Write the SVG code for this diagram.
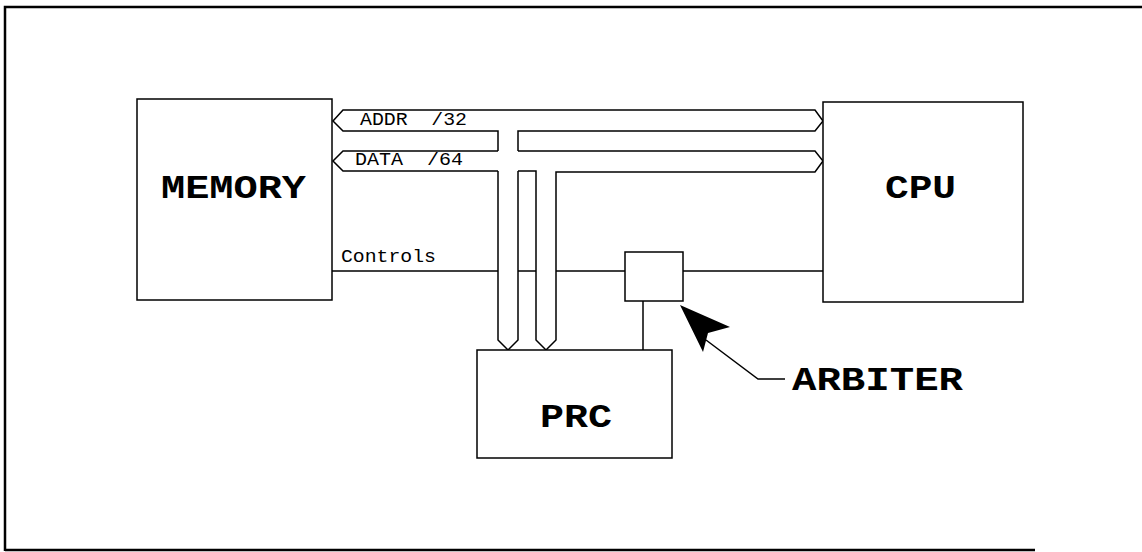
<svg xmlns="http://www.w3.org/2000/svg" width="1142" height="552" viewBox="0 0 1142 552">
<style>
.box{fill:#fff;stroke:#000;stroke-width:1.5}
.ln{fill:none;stroke:#000;stroke-width:1.5;stroke-linejoin:miter}
.big{font-family:"Liberation Mono","Courier New",monospace;font-weight:bold;font-size:33px;fill:#000}
.sm{font-family:"Liberation Mono","Courier New",monospace;font-size:18px;fill:#000}
</style>
<rect width="1142" height="552" fill="#fff"/>
<g id="frame"><path d="M5,551 L5,7 L1142,7 M5,550 L1035,550" fill="none" stroke="#000" stroke-width="2.5"/></g>
<g id="connectors">
<path class="ln" d="M498,151 L498,131 L343,131 L333,121 L343,110 L815,110 L823,121 L815,131 L518,131 L518,151 M518,171 L518,340 L508,350 L498,340 L498,171"/>
<path class="ln" d="M498,171 L343,171 L333,161 L343,151 L498,151 M518,151 L815,151 L823,161 L815,172 L556,172 L556,340 L546,350 L536,340 L536,171 L518,171"/>
<path class="ln" d="M332,271 L498,271 M518,271 L536,271 M556,271 L625,271 M683,271 L823,271"/>
<path class="ln" d="M643,301 L643,350"/>
<path d="M680,305 L730,327 L708,333 L703,352 Z" fill="#000"/>
<path class="ln" d="M706,340 L758,379 L785,379"/>
</g>
<g id="memory"><rect class="box" x="137" y="99" width="195" height="201"/><text class="big" x="161" y="198" textLength="145" lengthAdjust="spacingAndGlyphs">MEMORY</text></g>
<g id="cpu"><rect class="box" x="823" y="102" width="200" height="200"/><text class="big" x="885" y="198" textLength="71" lengthAdjust="spacingAndGlyphs">CPU</text></g>
<g id="prc"><rect class="box" x="477" y="350" width="195" height="108"/><text class="big" x="540" y="427" textLength="72" lengthAdjust="spacingAndGlyphs">PRC</text></g>
<g id="arbiter"><rect class="box" x="625" y="252" width="58" height="49"/><text class="big" x="792" y="390" textLength="171" lengthAdjust="spacingAndGlyphs">ARBITER</text></g>
<g id="labels">
<text class="sm" x="360" y="125" xml:space="preserve" textLength="107" lengthAdjust="spacingAndGlyphs">ADDR  /32</text>
<text class="sm" x="355" y="165" xml:space="preserve" textLength="108" lengthAdjust="spacingAndGlyphs">DATA  /64</text>
<text class="sm" x="341" y="262" textLength="95" lengthAdjust="spacingAndGlyphs">Controls</text>
</g>
</svg>
